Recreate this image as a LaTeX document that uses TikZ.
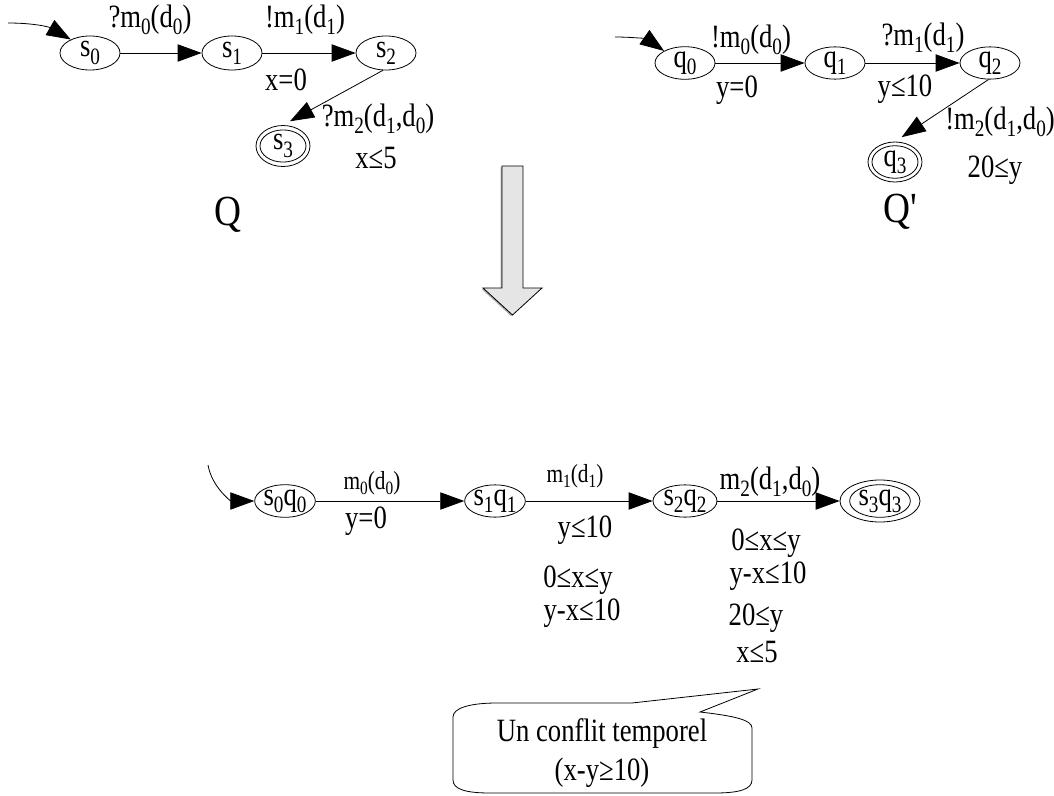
\documentclass[tikz,border=0pt]{standalone}
\usepackage{fontspec}
\setmainfont{Liberation Serif}
\usetikzlibrary{arrows.meta,shapes.geometric}
\newcommand{\sbs}[1]{\raisebox{-0.22em}{\scalebox{0.72}{#1}}}
\newcommand{\tall}[1]{\scalebox{1}[1.22]{#1}}
\begin{document}
\begin{tikzpicture}[x=0.75pt,y=-0.75pt,
  every node/.style={font=\fontsize{20}{24}\selectfont},
  st/.style={draw, ellipse, minimum width=45pt, minimum height=24pt, inner sep=0pt, line width=0.6pt},
  topst/.style={st, minimum height=25.5pt},
  outer/.style={draw, ellipse, inner sep=0pt, line width=0.6pt},
  arr/.style={-{Triangle[length=18pt,width=13pt]}, line width=0.6pt},
  lbl/.style={inner sep=0pt, yscale=1.22},
  smalllbl/.style={inner sep=0pt, yscale=1.22, font=\fontsize{16}{19}\selectfont},
  big/.style={inner sep=0pt, yscale=1.15, font=\fontsize{28}{32}\selectfont}]
\useasboundingbox (0,0) rectangle (1054,796);

% ---------- Q ----------
\node[topst] (s0) at (90,53) {\tall{s\sbs{0}}};
\node[topst] (s1) at (232,53) {\tall{s\sbs{1}}};
\node[topst] (s2) at (386,53) {\tall{s\sbs{2}}};
\node[outer, minimum width=40.5pt, minimum height=30.75pt] (s3) at (283,146) {};
\node[st, minimum width=34.5pt, minimum height=23pt] (s3i) at (283,146) {\tall{s\sbs{3}}};
\coordinate (i0) at (8,23);
\draw[arr] (i0) to[out=0, in=150] (s0.145);
\draw[arr] (s0) -- (s1);
\draw[arr] (s1) -- (s2);
\draw[arr, shorten >=6pt] (s2.260) -- (s3.north);
\node[lbl] (l1) at (150,20) {?m\sbs{0}(d\sbs{0})};
\node[lbl] (l2) at (305,20) {!m\sbs{1}(d\sbs{1})};
\node[lbl] (l3) at (286,80) {x=0};
\node[lbl] (l4) at (378,119) {?m\sbs{2}(d\sbs{1},d\sbs{0})};
\node[lbl] (l5) at (376,158) {x≤5};
\node[big] (Q) at (228,215) {Q};

% ---------- Q' ----------
\node[st] (q0) at (685,63) {\tall{q\sbs{0}}};
\node[st] (q1) at (835,63) {\tall{q\sbs{1}}};
\node[st] (q2) at (990,63) {\tall{q\sbs{2}}};
\node[outer, minimum width=40.5pt, minimum height=30pt] (q3) at (895,162) {};
\node[st, minimum width=34.5pt, minimum height=23pt] (q3i) at (895,162) {\tall{q\sbs{3}}};
\coordinate (j0) at (615,37);
\draw[arr] (j0) to[out=0, in=145] (q0.150);
\draw[arr] (q0) -- (q1);
\draw[arr] (q1) -- (q2);
\draw[arr, shorten >=6pt] (q2.265) -- (q3.north);
\node[lbl] (m1) at (751,40) {!m\sbs{0}(d\sbs{0})};
\node[lbl] (m2) at (737,90) {y=0};
\node[lbl] (m3) at (923,38) {?m\sbs{1}(d\sbs{1})};
\node[lbl] (m4) at (905,89) {y≤10};
\node[lbl] (m5) at (1000,122) {!m\sbs{2}(d\sbs{1},d\sbs{0})};
\node[lbl] (m6) at (995,170) {20≤y};
\node[big] (Qp) at (900,212) {Q\textquotesingle};

% ---------- big arrow ----------
\fill[gray!65] (500.5,167) -- (521.5,167) -- (521.5,289) -- (540.5,289) -- (511,316) -- (481.5,289) -- (500.5,289) -- cycle;
\draw[fill=gray!20, line width=0.6pt] (502,166) -- (523,166) -- (523,288) -- (542,288) -- (512.5,315) -- (483,288) -- (502,288) -- cycle;

% ---------- product ----------
\node[st] (p0) at (285,501) {\tall{s\sbs{0}q\sbs{0}}};
\node[st] (p1) at (495,501) {\tall{s\sbs{1}q\sbs{1}}};
\node[st, minimum width=48pt] (p2) at (685,501) {\tall{s\sbs{2}q\sbs{2}}};
\node[outer, minimum width=60pt, minimum height=31.5pt] (p3) at (880,501) {};
\node[st] (p3i) at (880,501) {\tall{s\sbs{3}q\sbs{3}}};
\coordinate (k0) at (208,465);
\draw[arr] (k0) to[out=-80, in=180] (p0.west);
\draw[arr] (p0) -- (p1);
\draw[arr] (p1) -- (p2);
\draw[arr] (p2) -- (p3);
\node[smalllbl] (n1) at (372,483) {m\sbs{0}(d\sbs{0})};
\node[lbl] (n2) at (366,521) {y=0};
\node[smalllbl] (n3) at (575,476) {m\sbs{1}(d\sbs{1})};
\node[lbl] (n4) at (585,530) {y≤10};
\node[lbl] (n5) at (578,580) {0≤x≤y};
\node[lbl] (n6) at (582,613) {y-x≤10};
\node[lbl] (n7) at (770,482) {m\sbs{2}(d\sbs{1},d\sbs{0})};
\node[lbl] (n8) at (766,543) {0≤x≤y};
\node[lbl] (n9) at (768,576) {y-x≤10};
\node[lbl] (n10) at (756,618) {20≤y};
\node[lbl] (n11) at (757,652) {x≤5};

% ---------- callout ----------
\draw[line width=0.6pt] (453,717) .. controls (453,708) and (470,703) .. (497,703)
  -- (632,703) -- (758,689) -- (700,712)
  .. controls (735,716) and (752,720) .. (752,728)
  -- (752,780) .. controls (752,789) and (740,793) .. (715,793)
  -- (490,793) .. controls (465,793) and (453,789) .. (453,780) -- cycle;
\node[align=center, inner sep=0pt, yscale=1.22, font=\fontsize{20}{24}\selectfont] (note) at (602,753) {Un conflit temporel\\(x-y≥10)};
\end{tikzpicture}
\end{document}
